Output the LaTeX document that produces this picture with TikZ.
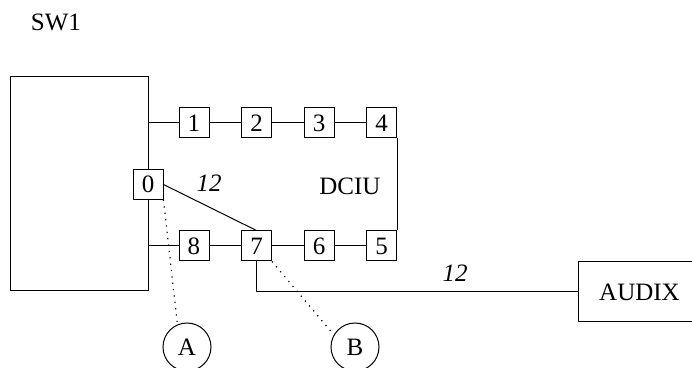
\documentclass[tikz,border=0pt]{standalone}
\usepackage{fontspec}
\setmainfont{Liberation Serif}
\usetikzlibrary{positioning}
\begin{document}
\begin{tikzpicture}[x=0.5pt,y=-0.5pt,font=\fontsize{12.5}{14}\selectfont,
port/.style={draw,line width=.5pt,minimum size=15pt,inner sep=0pt},
unit/.style={draw,line width=.5pt,inner sep=0pt},
probe/.style={draw,circle,line width=.5pt,minimum size=24pt,inner sep=0pt},
link/.style={line width=.5pt},
tap/.style={line width=.6pt,dash pattern=on .6pt off 2.6pt},
node distance=15.75pt]
\useasboundingbox (0,0) rectangle (692,368);
\node at (56,22) (swname) {SW1};
\node[unit,minimum width=69pt,minimum height=107pt] (sw) at (79,184) {};
\node[port,fill=white] (n0) at (148,184.5) {0};
\node[port] (n1) at (194,123) {1};
\node[port,right=of n1] (n2) {2};
\node[port,right=of n2] (n3) {3};
\node[port,right=of n3] (n4) {4};
\node[port] (n8) at (194,246) {8};
\node[port,right=of n8] (n7) {7};
\node[port,right=of n7] (n6) {6};
\node[port,right=of n6] (n5) {5};
\node at (350,186) (dciu) {DCIU};
\node at (209,183) (len1) {\itshape 12};
\node[unit,minimum width=74pt,minimum height=30pt,anchor=west] (audix) at (578,292) {AUDIX\kern13pt};
\node at (455,273) (len2) {\itshape 12};
\node[probe] (pa) at (187,347) {A};
\node[probe] (pb) at (355,347) {B};
\draw[link](sw.east |- n1)--(n1);\draw[link](n1)--(n2);\draw[link](n2)--(n3);\draw[link](n3)--(n4);
\draw[link](n4.south east)--(n5.north east);
\draw[link](n5)--(n6);\draw[link](n6)--(n7);\draw[link](n7)--(n8);\draw[link](n8)--(sw.east |- n8);
\draw[link](n0.east)--(n7.north);
\draw[link](n7.south)|-(audix.west);
\draw[tap](n0.south east)--(pa.113);
\draw[tap](n7.south east)--(pb.150);
\end{tikzpicture}
\end{document}
